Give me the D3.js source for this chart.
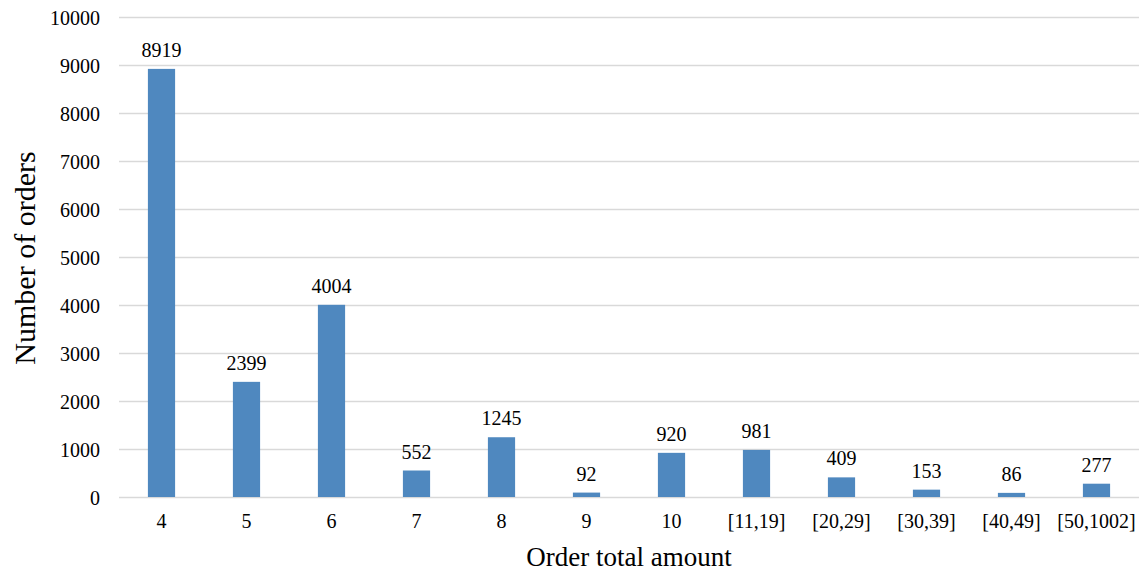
<!DOCTYPE html>
<html>
<head>
<meta charset="utf-8">
<script src="https://cdn.jsdelivr.net/npm/d3@7"></script>
<style>
  html, body { margin: 0; padding: 0; background: #fff; }
  svg text { font-family: "Liberation Serif", "Times New Roman", serif; fill: #000; }
</style>
</head>
<body>
<svg id="chart" width="1140" height="573"></svg>
<script>
// Order count per order total amount
const categories = ["4", "5", "6", "7", "8", "9", "10", "[11,19]", "[20,29]", "[30,39]", "[40,49]", "[50,1002]"];
const orderCounts = [8919, 2399, 4004, 552, 1245, 92, 920, 981, 409, 153, 86, 277];
const yTicks = [0, 1000, 2000, 3000, 4000, 5000, 6000, 7000, 8000, 9000, 10000];

const svg = d3.select("#chart");
const margin = { left: 119, right: 1, top: 17, bottom: 76 };
const W = 1140, H = 573;
const serif = "'Liberation Serif', 'Times New Roman', serif";

const x = d3.scaleBand()
  .domain(categories)
  .range([margin.left, W - margin.right])
  .paddingInner(0.68)
  .paddingOuter(0.34);

const y = d3.scaleLinear()
  .domain([0, 10000])
  .range([H - margin.bottom, margin.top]);

// horizontal gridlines
svg.append("g")
  .selectAll("line")
  .data(yTicks)
  .join("line")
  .attr("x1", margin.left)
  .attr("x2", W - margin.right)
  .attr("y1", d => Math.round(y(d)) + 0.5)
  .attr("y2", d => Math.round(y(d)) + 0.5)
  .attr("stroke", "#d9d9d9")
  .attr("stroke-width", 1.3);

// y-axis tick labels
const yAxis = d3.axisLeft(y).tickValues(yTicks).tickFormat(d3.format("d")).tickSize(0).tickPadding(0);
const gy = svg.append("g")
  .attr("transform", `translate(${margin.left - 19},0)`)
  .call(yAxis)
  .attr("font-family", serif)
  .attr("font-size", 20);
gy.select(".domain").remove();
gy.selectAll("text").attr("dy", "0.35em").attr("fill", "#000");

// bars
svg.append("g")
  .selectAll("rect")
  .data(orderCounts)
  .join("rect")
  .attr("x", (d, i) => x(categories[i]))
  .attr("width", x.bandwidth())
  .attr("y", d => y(d))
  .attr("height", d => y(0) - y(d))
  .attr("fill", "#4f88bf");

// value labels
svg.append("g")
  .selectAll("text")
  .data(orderCounts)
  .join("text")
  .attr("x", (d, i) => x(categories[i]) + x.bandwidth() / 2)
  .attr("y", d => y(d) - 12)
  .attr("text-anchor", "middle")
  .attr("font-size", 20)
  .text(d => d);

// x-axis category labels
const xAxis = d3.axisBottom(x).tickSize(0).tickPadding(0);
const gx = svg.append("g")
  .attr("transform", `translate(0,${H - margin.bottom})`)
  .call(xAxis)
  .attr("font-family", serif)
  .attr("font-size", 20);
gx.select(".domain").remove();
gx.selectAll("text").attr("y", 31).attr("dy", 0).attr("fill", "#000");

// axis titles
svg.append("text")
  .attr("x", (margin.left + W - margin.right) / 2)
  .attr("y", 566)
  .attr("text-anchor", "middle")
  .attr("font-size", 27)
  .text("Order total amount");

svg.append("text")
  .attr("transform", `translate(35,258) rotate(-90)`)
  .attr("text-anchor", "middle")
  .attr("font-size", 30)
  .text("Number of orders");
</script>
</body>
</html>
